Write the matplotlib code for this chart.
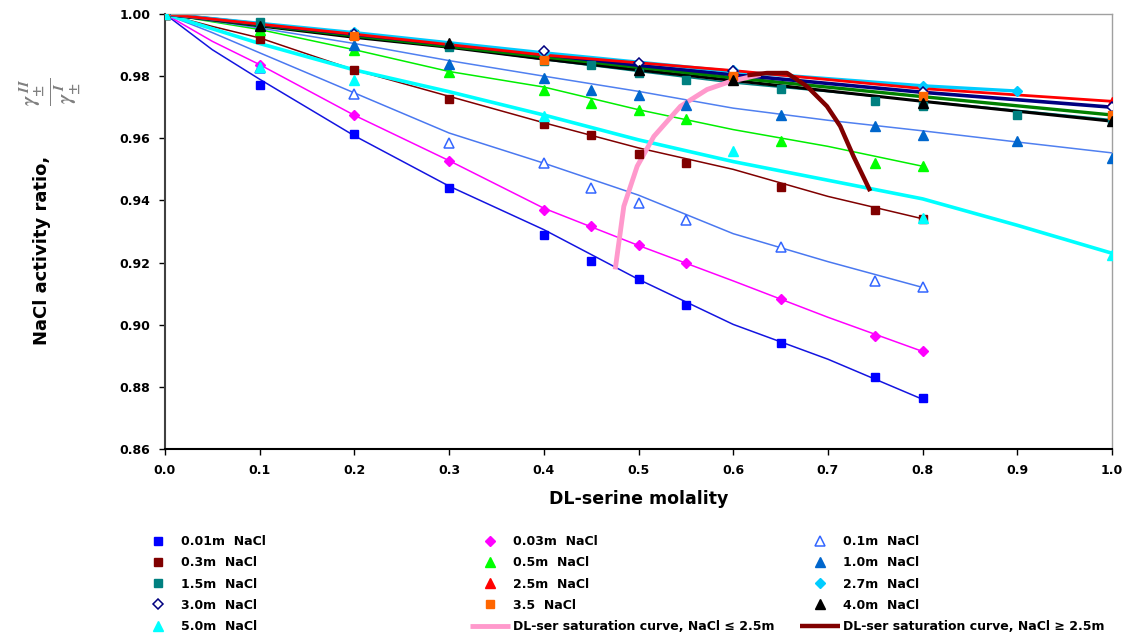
import matplotlib
matplotlib.use("Agg")
import matplotlib.pyplot as plt

# ---- measured points (DL-serine molality vs activity ratio) ----
x_a = [0, 0.1, 0.2, 0.3, 0.4, 0.45, 0.5, 0.55, 0.65, 0.75, 0.8]
y_001 = [1.0, 0.977, 0.9615, 0.944, 0.929, 0.9205, 0.9148, 0.9064, 0.8941, 0.8832, 0.8765]
y_003 = [1.0, 0.9837, 0.9674, 0.9528, 0.937, 0.9318, 0.9255, 0.9199, 0.9084, 0.8963, 0.8914]
y_01 = [1.0, 0.9826, 0.9743, 0.9584, 0.9519, 0.9439, 0.9392, 0.9336, 0.9251, 0.914, 0.912]
y_03 = [1.0, 0.9918, 0.982, 0.9725, 0.9647, 0.9612, 0.955, 0.9521, 0.9444, 0.9368, 0.9341]
y_05 = [1.0, 0.995, 0.9885, 0.9813, 0.9757, 0.9714, 0.969, 0.9662, 0.9592, 0.9522, 0.9512]

x_b = [0, 0.1, 0.2, 0.3, 0.4, 0.45, 0.5, 0.55, 0.65, 0.75, 0.8, 0.9, 1.0]
y_10 = [1.0, 0.9965, 0.990, 0.9839, 0.9795, 0.9757, 0.9738, 0.9707, 0.9676, 0.9639, 0.961, 0.9592, 0.9538]
y_15 = [1.0, 0.9975, 0.9935, 0.9895, 0.985, 0.9835, 0.9811, 0.9786, 0.9759, 0.9719, 0.9703, 0.9674, 0.966]

x_25 = [0, 0.2, 0.4, 0.6, 0.8, 1.0]
y_25 = [1.0, 0.9935, 0.9875, 0.982, 0.9765, 0.9718]
x_27 = [0, 0.2, 0.4, 0.6, 0.8, 0.9]
y_27 = [1.0, 0.9942, 0.9875, 0.982, 0.9769, 0.9752]
x_30 = [0, 0.2, 0.4, 0.5, 0.6, 0.8, 1.0]
y_30 = [1.0, 0.9935, 0.988, 0.9842, 0.9815, 0.9750, 0.970]
x_35 = [0, 0.2, 0.4, 0.6, 0.8, 1.0]
y_35 = [1.0, 0.9928, 0.9853, 0.980, 0.9735, 0.9674]
x_40 = [0, 0.1, 0.3, 0.5, 0.6, 0.8, 1.0]
y_40 = [1.0, 0.996, 0.9907, 0.9819, 0.9789, 0.9712, 0.9655]
x_50 = [0, 0.1, 0.2, 0.4, 0.6, 0.8, 1.0]
y_50 = [1.0, 0.9828, 0.9788, 0.9673, 0.956, 0.9344, 0.9225]

# ---- model curves ----
xl_8 = [0, 0.05, 0.1, 0.2, 0.3, 0.4, 0.5, 0.6, 0.7, 0.8]
yl_001 = [1.0, 0.9885, 0.979, 0.9608, 0.9446, 0.9306, 0.9146, 0.9001, 0.8889, 0.876]
yl_003 = [1.0, 0.9912, 0.9837, 0.9674, 0.9528, 0.9375, 0.9255, 0.9141, 0.9024, 0.8914]
yl_01 = [1.0, 0.994, 0.9875, 0.9746, 0.9617, 0.952, 0.9417, 0.9293, 0.9203, 0.912]
yl_03 = [1.0, 0.996, 0.9923, 0.982, 0.9735, 0.965, 0.9569, 0.950, 0.9413, 0.9341]
yl_05 = [1.0, 0.9975, 0.995, 0.9885, 0.9815, 0.9765, 0.9692, 0.9628, 0.9574, 0.951]
xl_10 = [0, 0.1, 0.2, 0.3, 0.4, 0.5, 0.6, 0.7, 0.8, 0.9, 1.0]
yl_10 = [1.0, 0.9955, 0.9905, 0.985, 0.980, 0.9751, 0.9697, 0.9658, 0.9624, 0.9588, 0.9553]
yl_15 = [1.0, 0.9965, 0.993, 0.9894, 0.9853, 0.9815, 0.9778, 0.975, 0.972, 0.969, 0.966]
yl_50 = [1.0, 0.9905, 0.982, 0.975, 0.9675, 0.9595, 0.9525, 0.9465, 0.9405, 0.932, 0.923]
xl_25 = [0, 0.2, 0.4, 0.6, 0.8, 1.0]
yl_25 = [1.0, 0.9935, 0.9868, 0.9818, 0.976, 0.9719]
xl_27 = [0, 0.2, 0.4, 0.6, 0.8, 0.9]
yl_27 = [1.0, 0.994, 0.9875, 0.9815, 0.9769, 0.9752]
xl_30 = [0, 0.2, 0.4, 0.5, 0.6, 0.8, 1.0]
yl_30 = [1.0, 0.9935, 0.987, 0.9835, 0.9805, 0.9748, 0.970]
xl_35 = [0, 0.2, 0.4, 0.6, 0.8, 1.0]
yl_35 = [1.0, 0.993, 0.9862, 0.9795, 0.9734, 0.9675]
xl_40 = [0, 0.1, 0.2, 0.3, 0.4, 0.5, 0.6, 0.8, 1.0]
yl_40 = [1.0, 0.9962, 0.9925, 0.9893, 0.9855, 0.982, 0.9786, 0.9719, 0.9655]

# ---- DL-serine saturation curves ----
x_sat_lo = [0.4754, 0.4845, 0.4986, 0.5162, 0.5443, 0.5724, 0.597, 0.6287]
y_sat_lo = [0.9178, 0.9381, 0.951, 0.9606, 0.9703, 0.9757, 0.9783, 0.9805]
x_sat_hi = [0.615, 0.6357, 0.6568, 0.678, 0.699, 0.713, 0.727, 0.7447]
y_sat_hi = [0.9803, 0.981, 0.981, 0.9767, 0.9703, 0.9639, 0.9542, 0.943]

plt.rcParams['font.family'] = ['DejaVu Sans']
plt.rcParams['font.weight'] = 'bold'

fig = plt.figure(figsize=(11.37, 6.38), dpi=100)
ax = fig.add_axes([165/1137, 1-449/638, (1112-165)/1137, (449-14)/638])

# model curves
ax.plot(xl_8, yl_001, color='#1414e0', lw=1.1, zorder=2)
ax.plot(xl_8, yl_003, color='#ff00ff', lw=1.1, zorder=2)
ax.plot(xl_8, yl_01, color='#4a78f0', lw=1.1, zorder=2)
ax.plot(xl_8, yl_03, color='#800000', lw=1.1, zorder=2)
ax.plot(xl_8, yl_05, color='#00ee00', lw=1.1, zorder=2)
ax.plot(xl_10, yl_10, color='#5080f0', lw=1.1, zorder=2)
ax.plot(xl_10, yl_15, color='#008080', lw=1.1, zorder=2)
ax.plot(xl_10, yl_50, color='#00ffff', lw=2.6, zorder=2)
ax.plot(xl_40, yl_40, color='black', lw=2.2, zorder=2)
ax.plot(xl_35, yl_35, color='#008000', lw=2.4, zorder=2)
ax.plot(xl_30, yl_30, color='#000080', lw=2.6, zorder=2)
ax.plot(xl_27, yl_27, color='#00ccff', lw=2.4, zorder=2)
ax.plot(xl_25, yl_25, color='#ff0000', lw=2.0, zorder=2)

# measured points
ms = dict(linestyle='none', zorder=4)
h001, = ax.plot(x_a, y_001, marker='s', ms=5.5, color='#0000ff', label='0.01m  NaCl', **ms)
h003, = ax.plot(x_a, y_003, marker='D', ms=5, color='#ff00ff', label='0.03m  NaCl', **ms)
h01, = ax.plot(x_a, y_01, marker='^', ms=7, mfc='white', mec='#3366ff', mew=1.1, label='0.1m  NaCl', **ms)
h03, = ax.plot(x_a, y_03, marker='s', ms=5.5, color='#800000', label='0.3m  NaCl', **ms)
h05, = ax.plot(x_a, y_05, marker='^', ms=7, color='#00ff00', label='0.5m  NaCl', **ms)
h10, = ax.plot(x_b, y_10, marker='^', ms=7, color='#0066cc', label='1.0m  NaCl', **ms)
h15, = ax.plot(x_b, y_15, marker='s', ms=5.5, color='#008080', label='1.5m  NaCl', **ms)
h25, = ax.plot(x_25, y_25, marker='^', ms=7, color='#ff0000', label='2.5m  NaCl', **ms)
h27, = ax.plot(x_27, y_27, marker='D', ms=5, color='#00ccff', label='2.7m  NaCl', **ms)
h30, = ax.plot(x_30, y_30, marker='D', ms=5, mfc='white', mec='#000080', mew=1.1, label='3.0m  NaCl', **ms)
h35, = ax.plot(x_35, y_35, marker='s', ms=5.5, color='#ff6600', label='3.5  NaCl', **ms)
h40, = ax.plot(x_40, y_40, marker='^', ms=7, color='black', label='4.0m  NaCl', **ms)
h50, = ax.plot(x_50, y_50, marker='^', ms=7, color='#00ffff', label='5.0m  NaCl', **ms)

hlo, = ax.plot(x_sat_lo, y_sat_lo, color='#ff99cc', lw=3.5, solid_capstyle='butt', zorder=3,
               label='DL-ser saturation curve, NaCl \u2264 2.5m')
hhi, = ax.plot(x_sat_hi, y_sat_hi, color='#800000', lw=3.2, solid_capstyle='butt', zorder=3,
               label='DL-ser saturation curve, NaCl \u2265 2.5m')

ax.set_xlim(0, 1.0)
ax.set_ylim(0.86, 1.0)
ax.set_xticks([i / 10 for i in range(11)])
ax.set_yticks([0.86 + 0.02 * i for i in range(8)])
ax.xaxis.set_major_formatter(plt.FormatStrFormatter('%.1f'))
ax.yaxis.set_major_formatter(plt.FormatStrFormatter('%.2f'))
ax.tick_params(direction='out', length=4.5, width=1, labelsize=9, pad=6)
for lab in ax.get_xticklabels() + ax.get_yticklabels():
    lab.set_fontweight('bold')
ax.spines['left'].set_color('#404040')
ax.spines['left'].set_linewidth(1.5)
ax.spines['bottom'].set_color('black')
ax.spines['bottom'].set_linewidth(1.5)
ax.spines['top'].set_color('#a0a0a0')
ax.spines['right'].set_color('#a0a0a0')
ax.spines['top'].set_linewidth(1)
ax.spines['right'].set_linewidth(1)

ax.set_xlabel('DL-serine molality', fontsize=12.5, fontweight='bold', labelpad=10)
fig.text(42/1137, 1-250/638, 'NaCl activity ratio,', rotation=90, ha='center', va='center',
         fontsize=13, fontweight='bold')
fig.text(50/1137, 1-92/638, r'$\frac{\gamma_{\pm}^{\;II}}{\gamma_{\pm}^{\;I}}$', rotation=90,
         ha='center', va='center', fontsize=22, color='#808080', fontweight='normal',
         math_fontfamily='stix')

# legend, three columns
cols = [[h001, h03, h15, h30, h50],
        [h003, h05, h25, h35, hlo],
        [h01, h10, h27, h40, hhi]]
col_x = [138, 470, 800]
for handles, cx in zip(cols, col_x):
    fig.legend(handles=handles, loc='upper left', bbox_to_anchor=(cx/1137, 1-535/638),
               frameon=False, borderpad=0, borderaxespad=0, handlelength=3.2,
               handletextpad=0.25, labelspacing=0.66, prop={'size': 9, 'weight': 'bold'})

fig.savefig('out.png', dpi=100)
